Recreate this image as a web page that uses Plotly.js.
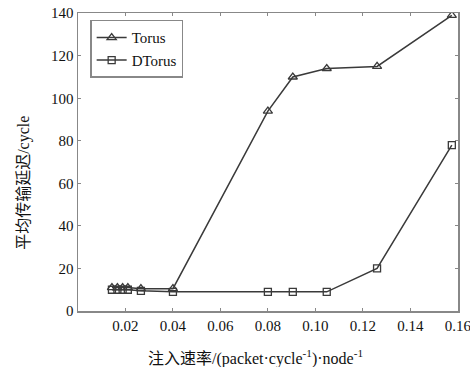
<!DOCTYPE html>
<html><head><meta charset="utf-8">
<script src="https://cdn.plot.ly/plotly-3.0.1.min.js"></script>
<style>html,body{margin:0;padding:0;background:#fff;}#c{width:470px;height:367px;}</style>
</head><body><div id="c"></div>
<script>
const torusX = [0.0143, 0.0166, 0.0188, 0.021, 0.0265, 0.04, 0.08, 0.0905, 0.1048, 0.126, 0.1575];
const torusY = [11, 11, 11, 11, 10.5, 10.5, 94, 110, 114, 115, 139];
const dtorusX = [0.0143, 0.0166, 0.0188, 0.021, 0.0265, 0.04, 0.08, 0.0905, 0.1048, 0.126, 0.1575];
const dtorusY = [10, 10, 10, 10, 9.5, 9, 9, 9, 9, 20, 78];
const xTicks = [0.02, 0.04, 0.06, 0.08, 0.10, 0.12, 0.14, 0.16];
const xTickText = ['0.02','0.04','0.06','0.08','0.10','0.12','0.14','0.16'];
const yTicks = [0, 20, 40, 60, 80, 100, 120, 140];
const xTitle = '注入速率/(packet·cycle<sup>-1</sup>)·node<sup>-1</sup>';
const yTitle = '平均传输延迟/cycle';

const lineCol = '#3a3a3a';
const titleFont = {family: 'Liberation Serif, Noto Sans CJK SC', size: 16, color: '#111'};
const traces = [
  {x: torusX, y: torusY, name: 'Torus', mode: 'lines+markers', type: 'scatter',
   line: {color: lineCol, width: 1.5},
   marker: {symbol: 'triangle-up-open', size: 8, color: lineCol, line: {width: 1.3}}},
  {x: dtorusX, y: dtorusY, name: 'DTorus', mode: 'lines+markers', type: 'scatter',
   line: {color: lineCol, width: 1.5},
   marker: {symbol: 'square-open', size: 7, color: lineCol, line: {width: 1.3}}}
];
const axisCommon = {showgrid: false, zeroline: false, showline: true, linecolor: '#888', linewidth: 1.5,
  mirror: 'ticks', ticks: 'inside', ticklen: 3, tickcolor: '#888', ticklabeloverflow: 'allow',
  tickfont: {family: 'Liberation Serif', size: 15, color: '#111'}};
const layout = {
  width: 470, height: 367,
  margin: {l: 78, r: 12, t: 13, b: 56},
  paper_bgcolor: '#fff', plot_bgcolor: '#fff',
  showlegend: true,
  legend: {x: 0.032, y: 0.977, xanchor: 'left', yanchor: 'top', bgcolor: '#fff',
    bordercolor: '#888', borderwidth: 1.5,
    font: {family: 'Liberation Serif', size: 15, color: '#111'}, tracegroupgap: 0, itemwidth: 30},
  xaxis: Object.assign({}, axisCommon, {range: [0, 0.1601], tickvals: xTicks, ticktext: xTickText}),
  yaxis: Object.assign({}, axisCommon, {range: [0, 140.1], tickvals: yTicks}),
  annotations: [
    {text: xTitle, xref: 'paper', yref: 'paper', x: 0.468, y: 0, yshift: -46,
     xanchor: 'center', yanchor: 'middle', showarrow: false, font: titleFont},
    {text: yTitle, xref: 'paper', yref: 'paper', x: 0, xshift: -54, y: 0.43,
     xanchor: 'center', yanchor: 'middle', textangle: -90, showarrow: false, font: titleFont}
  ]
};
Plotly.newPlot('c', traces, layout, {displayModeBar: false, staticPlot: true});
</script></body></html>
